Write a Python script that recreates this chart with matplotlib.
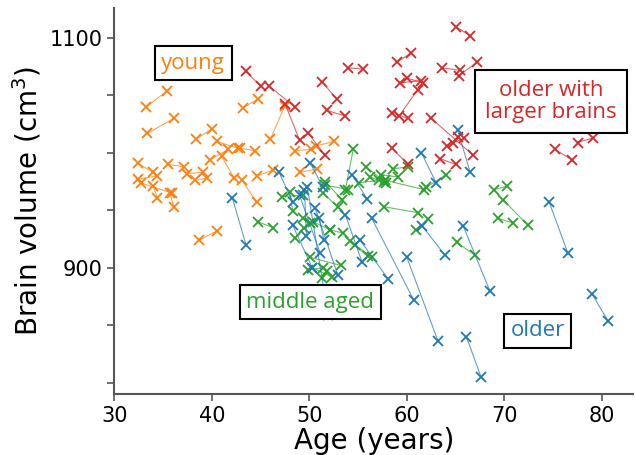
import numpy as np
import matplotlib
matplotlib.use("Agg")
import matplotlib.pyplot as plt

# each entry: (first visit, second visit)
young_age = [(33.3, 35.4), (33.4, 36.1), (38.4, 40.0), (40.5, 42.7), (42.9, 44.4),
             (41.0, 42.3), (43.1, 44.6), (32.4, 34.0), (32.4, 34.4), (32.7, 35.9),
             (34.0, 34.4), (35.7, 36.1), (35.5, 37.1), (37.5, 39.1), (38.3, 39.5),
             (44.6, 46.3), (49.0, 50.8), (48.5, 50.2), (50.7, 52.5), (43.2, 44.7),
             (46.0, 47.5), (38.7, 40.5), (39.8, 41.7)]
young_vol = [(1040, 1054), (1017, 1030), (1012, 1021), (1010, 1004), (1004, 1002),
             (997, 978), (976, 957), (991, 983), (977, 980), (974, 965),
             (971, 961), (965, 953), (990, 988), (982, 983), (976, 978),
             (980, 985), (983, 986), (1002, 1003), (1006, 1010), (1039, 1047),
             (1012, 1041), (924, 932), (994, 1003)]

middle_age = [(44.7, 46.3), (47.2, 49.4), (48.0, 48.3), (49.3, 50.1), (48.5, 49.5),
              (50.1, 53.2), (49.9, 51.4), (50.3, 52.3), (51.3, 51.8), (52.1, 53.5),
              (54.2, 56.0), (54.7, 56.4), (51.6, 54.0), (51.4, 52.9), (54.5, 53.7),
              (55.8, 57.7), (55.1, 57.1), (51.6, 53.4), (50.4, 52.1), (56.2, 57.9),
              (57.3, 59.1), (58.6, 60.1), (62.0, 64.0), (57.8, 61.8), (57.7, 61.1),
              (60.9, 62.2), (65.1, 67.0), (68.9, 70.3), (69.9, 72.4), (69.3, 70.9)]
middle_vol = [(940, 935), (962, 963), (966, 949), (943, 939), (926, 935),
              (909, 902), (898, 900), (900, 892), (891, 897), (933, 930),
              (923, 910), (920, 909), (972, 968), (965, 953), (1003, 968),
              (988, 975), (974, 976), (975, 959), (940, 933), (979, 974),
              (981, 979), (986, 988), (970, 981), (976, 968), (953, 948),
              (933, 942), (922, 911), (968, 971), (959, 937), (943, 939)]

older_age = [(42.1, 43.5), (46.9, 48.3), (74.6, 76.5), (79.0, 80.6), (66.1, 67.6),
             (60.0, 63.2), (56.4, 60.7), (65.8, 68.5), (61.6, 63.9), (65.2, 66.5),
             (61.5, 63.0), (54.4, 55.9), (49.8, 51.9), (50.1, 51.4), (49.0, 51.1),
             (48.3, 50.3), (50.6, 52.9), (51.0, 51.5), (53.7, 55.4), (55.2, 58.1),
             (49.5, 49.7)]
older_vol = [(961, 920), (983, 957), (957, 913), (877, 854), (840, 805),
             (909, 836), (943, 872), (936, 880), (936, 911), (1020, 983),
             (1000, 974), (981, 960), (970, 859), (991, 970), (963, 913),
             (937, 900), (952, 894), (943, 924), (946, 905), (924, 890),
             (968, 928)]

large_age = [(43.5, 45.0), (45.9, 48.5), (47.5, 49.0), (49.9, 51.6), (51.3, 52.8),
             (51.8, 53.7), (54.0, 55.5), (65.0, 66.5), (59.0, 60.4), (63.6, 65.4),
             (65.3, 67.2), (59.3, 61.4), (60.0, 61.7), (61.1, 59.2), (58.5, 60.1),
             (62.5, 66.8), (64.1, 65.9), (64.7, 65.2), (63.4, 65.0), (58.5, 60.1),
             (75.2, 76.9), (77.5, 79.1)]
large_vol = [(1071, 1058), (1058, 1040), (1043, 1011), (1017, 998), (1062, 1047),
             (1037, 1032), (1074, 1073), (1110, 1102), (1079, 1087), (1074, 1072),
             (1067, 1079), (1061, 1063), (1065, 1061), (1055, 1032), (1035, 1030),
             (1030, 998), (1006, 1013), (1009, 1014), (995, 990), (1004, 990),
             (1003, 994), (1009, 1013)]

groups = [
    (young_age, young_vol, "#ff7f0e"),
    (middle_age, middle_vol, "#2ca02c"),
    (older_age, older_vol, "#1f77b4"),
    (large_age, large_vol, "#d62728"),
]

fig = plt.figure(figsize=(6.35, 4.55), dpi=100)
ax = fig.add_axes([0.18, 0.134, 0.817, 0.848])

for ages, vols, col in groups:
    ages = np.array(ages)
    vols = np.array(vols)
    for a, v in zip(ages, vols):
        ax.plot(a, v, "-", color=col, lw=0.8, alpha=0.7)
        ax.plot(a, v, "x", color=col, ms=6.5, mew=1.3, ls="none")

ax.set_xlim(30, 83.2)
ax.set_ylim(790, 1126)
ax.set_xticks([30, 40, 50, 60, 70, 80])
yt = np.arange(800, 1101, 50)
ax.set_yticks(yt)
ax.set_yticklabels(["" if t not in (900, 1100) else str(t) for t in yt])

for s in ["top", "right"]:
    ax.spines[s].set_visible(False)
for s in ["left", "bottom"]:
    ax.spines[s].set_color("#555555")
    ax.spines[s].set_linewidth(1.5)
ax.tick_params(direction="out", length=5, width=1.2, color="#555555", labelsize=15)

ax.set_xlabel("Age (years)", fontsize=20, labelpad=1)
ax.set_ylabel("Brain volume (cm$^3$)", fontsize=20, labelpad=4)

box = dict(boxstyle="square,pad=0.3", fc="white", ec="black", lw=1.5)
ax.text(38.1, 1078, "young", color="#ff7f0e", fontsize=16, ha="center", va="center",
        family="Open Sans", bbox=box)
ax.text(74.8, 1045, "older with\nlarger brains", color="#d62728", fontsize=16,
        ha="center", va="center", family="Open Sans", linespacing=1.05,
        bbox=dict(boxstyle="square,pad=0.45", fc="white", ec="black", lw=1.5))
ax.text(50.1, 870, "middle aged", color="#2ca02c", fontsize=16, ha="center", va="center",
        family="Open Sans", bbox=box)
ax.text(73.4, 845, "older", color="#1f77b4", fontsize=16, ha="center", va="center",
        family="Open Sans", bbox=box)

fig.savefig("out.png", dpi=100)
